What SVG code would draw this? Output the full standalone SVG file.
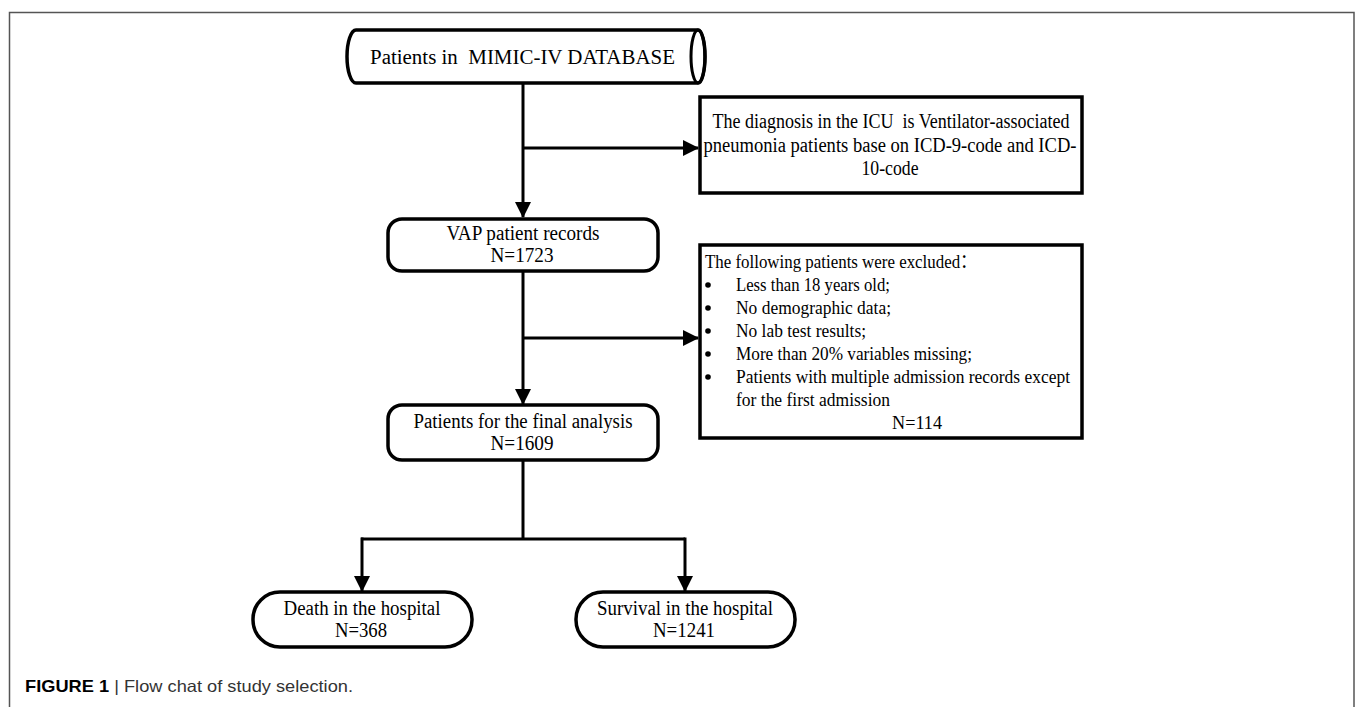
<svg xmlns="http://www.w3.org/2000/svg" width="1357" height="707" viewBox="0 0 1357 707">
<style>
.t{font-family:"Liberation Serif","Noto Sans CJK SC",serif;font-size:20.5px;fill:#000}
.s{font-size:19px}
.c{text-anchor:middle}
.box{fill:#fff;stroke:#000;stroke-width:3.5}
.ln{fill:none;stroke:#000;stroke-width:3}
.cap{font-family:"Liberation Sans",Arial,sans-serif;font-size:16.5px;fill:#333}
</style>
<defs>
<marker id="ah" markerUnits="userSpaceOnUse" markerWidth="16" markerHeight="16" viewBox="0 0 16 16" refX="15" refY="8" orient="auto">
<path d="M0,0 L16,8 L0,16 Z" fill="#000"/>
</marker>
</defs>
<rect x="0" y="0" width="1357" height="707" fill="#fff"/>
<path d="M9.5,707 V12.5 H1354 V707" fill="none" stroke="#555" stroke-width="1.5"/>

<g id="connectors">
<path class="ln" d="M523,83 V217" marker-end="url(#ah)"/>
<path class="ln" d="M523,148 H698" marker-end="url(#ah)"/>
<path class="ln" d="M523,271 V404" marker-end="url(#ah)"/>
<path class="ln" d="M523,338 H698" marker-end="url(#ah)"/>
<path class="ln" d="M523,460 V539"/>
<path class="ln" d="M361,539 H685"/>
<path class="ln" d="M362,537.5 V591" marker-end="url(#ah)"/>
<path class="ln" d="M685,537.5 V591" marker-end="url(#ah)"/>
</g>

<g id="n-db">
<path class="box" d="M356,30 H698 A7,26.5 0 0 1 698,83 H356 A9,26.5 0 0 1 356,30 Z"/>
<ellipse cx="698" cy="56.5" rx="7" ry="26.5" fill="none" stroke="#000" stroke-width="3"/>
<text class="t" x="370" y="64" textLength="305" lengthAdjust="spacingAndGlyphs">Patients in&#160; MIMIC-IV DATABASE</text>
</g>

<g id="n-diag">
<rect class="box" x="700" y="97" width="382" height="96"/>
<text class="t c" x="891" y="128" textLength="357" lengthAdjust="spacingAndGlyphs">The diagnosis in the ICU&#160; is Ventilator-associated</text>
<text class="t c" x="890" y="152" textLength="373" lengthAdjust="spacingAndGlyphs">pneumonia patients base on ICD-9-code and ICD-</text>
<text class="t c" x="890" y="175" textLength="57" lengthAdjust="spacingAndGlyphs">10-code</text>
</g>

<g id="n-vap">
<rect class="box" x="388" y="219" width="270" height="52" rx="14"/>
<text class="t c" x="523" y="240" textLength="153" lengthAdjust="spacingAndGlyphs">VAP patient records</text>
<text class="t c" x="522" y="262" textLength="63" lengthAdjust="spacingAndGlyphs">N=1723</text>
</g>

<g id="n-excl">
<rect class="box" x="700" y="245" width="382" height="193"/>
<text class="t s" x="705" y="268" textLength="272" lengthAdjust="spacingAndGlyphs">The following patients were excluded：</text>
<g class="t">
<circle cx="708" cy="285" r="2.8"/>
<circle cx="708" cy="308" r="2.8"/>
<circle cx="708" cy="331" r="2.8"/>
<circle cx="708" cy="354" r="2.8"/>
<circle cx="708" cy="377" r="2.8"/>
</g>
<text class="t s" x="736" y="291" textLength="154" lengthAdjust="spacingAndGlyphs">Less than 18 years old;</text>
<text class="t s" x="736" y="314" textLength="155" lengthAdjust="spacingAndGlyphs">No demographic data;</text>
<text class="t s" x="736" y="337" textLength="130" lengthAdjust="spacingAndGlyphs">No lab test results;</text>
<text class="t s" x="736" y="360" textLength="236" lengthAdjust="spacingAndGlyphs">More than 20% variables missing;</text>
<text class="t s" x="736" y="383" textLength="334" lengthAdjust="spacingAndGlyphs">Patients with multiple admission records except</text>
<text class="t s" x="736" y="406" textLength="154" lengthAdjust="spacingAndGlyphs">for the first admission</text>
<text class="t s c" x="917" y="429" textLength="50" lengthAdjust="spacingAndGlyphs">N=114</text>
</g>

<g id="n-final">
<rect class="box" x="388" y="405" width="270" height="55" rx="14"/>
<text class="t c" x="523" y="428" textLength="219" lengthAdjust="spacingAndGlyphs">Patients for the final analysis</text>
<text class="t c" x="522" y="450" textLength="63" lengthAdjust="spacingAndGlyphs">N=1609</text>
</g>

<g id="n-death">
<rect class="box" x="253" y="592" width="219" height="55" rx="27"/>
<text class="t c" x="362" y="615" textLength="157" lengthAdjust="spacingAndGlyphs">Death in the hospital</text>
<text class="t c" x="361" y="637" textLength="52" lengthAdjust="spacingAndGlyphs">N=368</text>
</g>

<g id="n-surv">
<rect class="box" x="576" y="592" width="219" height="55" rx="27"/>
<text class="t c" x="685" y="615" textLength="176" lengthAdjust="spacingAndGlyphs">Survival in the hospital</text>
<text class="t c" x="684" y="637" textLength="62" lengthAdjust="spacingAndGlyphs">N=1241</text>
</g>

<text class="cap" x="25" y="692" textLength="328" lengthAdjust="spacingAndGlyphs"><tspan font-weight="bold" fill="#000">FIGURE 1</tspan> | Flow chat of study selection.</text>
</svg>
